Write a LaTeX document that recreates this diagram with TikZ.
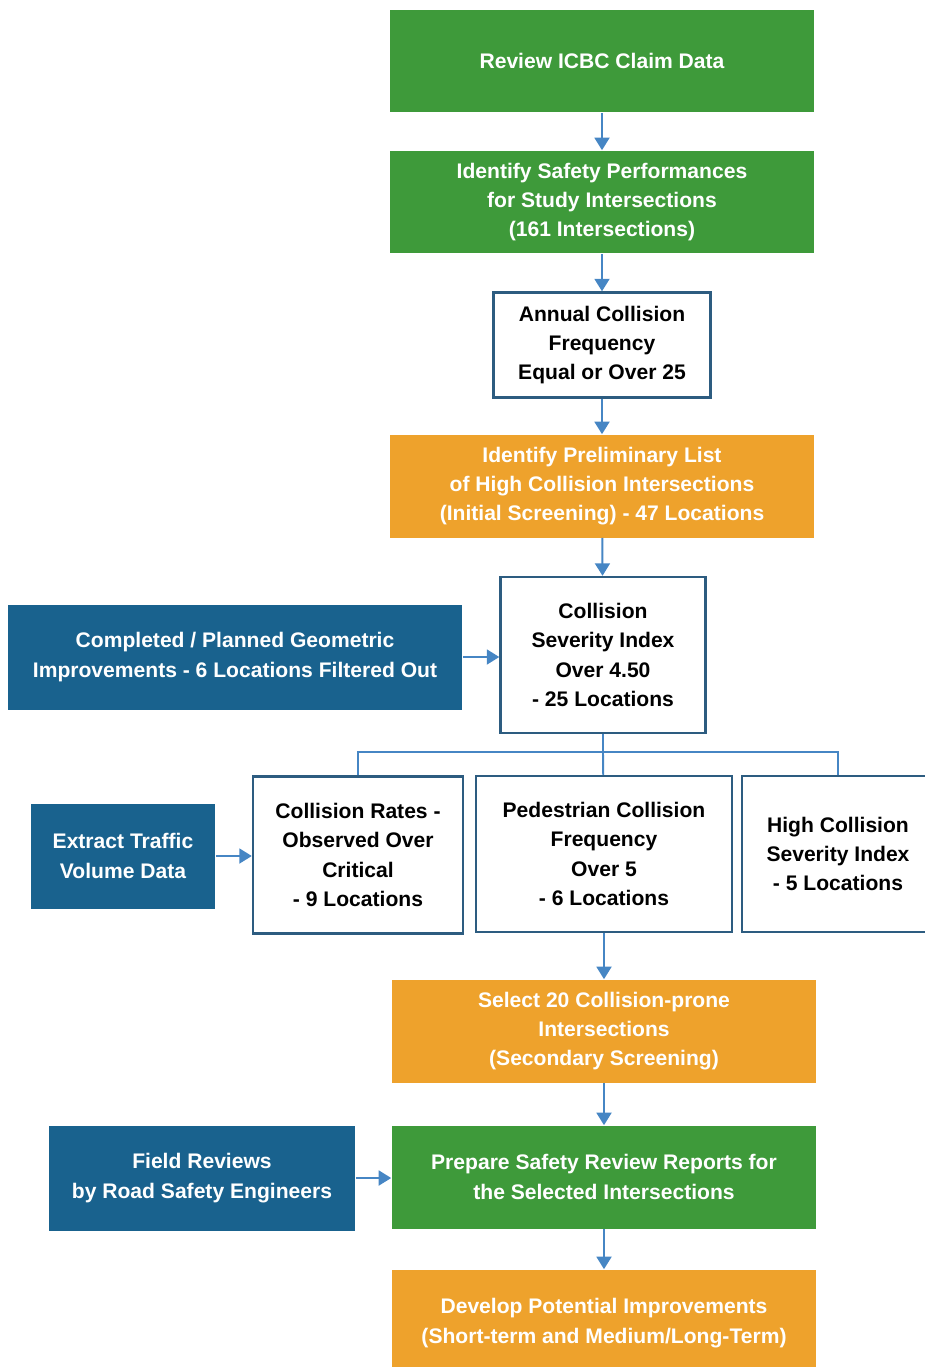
\documentclass[tikz,border=0pt]{standalone}
\usepackage{fontspec}
\setmainfont{Liberation Sans}
\usetikzlibrary{arrows.meta, positioning}
\definecolor{stepgreen}{RGB}{62,154,58}
\definecolor{steporange}{RGB}{238,162,44}
\definecolor{stepblue}{RGB}{25,98,142}
\definecolor{edgeblue}{RGB}{45,92,128}
\definecolor{linkblue}{RGB}{70,134,196}

\begin{document}
\begin{tikzpicture}[x=0.02cm, y=-0.02cm,
    box/.style    = {align=center, inner sep=2pt, font=\bfseries\fontsize{12}{16.6}\selectfont},
    gbox/.style   = {box, fill=stepgreen, text=white, minimum width=8.5cm, minimum height=2.06cm},
    obox/.style   = {box, fill=steporange, text=white, minimum width=8.5cm, minimum height=2.06cm},
    bbox/.style   = {box, fill=stepblue, text=white, minimum height=2.1cm},
    wbox/.style   = {box, draw=edgeblue, line width=1.4pt, fill=white, text=black},
    flow/.style   = {draw=linkblue, line width=1.1pt, -{Triangle[length=2.5mm, width=3mm]}},
    link/.style   = {draw=linkblue, line width=1.1pt}
  ]
  \useasboundingbox (0,0) rectangle (924,1367);

  % main column
  \node[gbox] (claims) at (602,61)  {Review ICBC Claim Data};
  \node[gbox] (perf)   at (602,202) {Identify Safety Performances\\for Study Intersections\\(161 Intersections)};
  \node[wbox, minimum width=4.34cm, minimum height=2.1cm] (annual) at (602,345)
    {Annual Collision\\Frequency\\Equal or Over 25};
  \node[obox] (prelim) at (602,486) {Identify Preliminary List\\of High Collision Intersections\\(Initial Screening) - 47 Locations};
  \node[wbox, minimum width=4.1cm, minimum height=3.12cm] (csi) at (603,655)
    {Collision\\Severity Index\\Over 4.50\\- 25 Locations};

  % secondary criteria
  \node[wbox, minimum width=4.2cm, minimum height=3.14cm]  (rates) at (358,855)
    {Collision Rates -\\Observed Over\\Critical\\- 9 Locations};
  \node[wbox, minimum width=5.12cm, minimum height=3.12cm] (ped)   at (604,854)
    {Pedestrian Collision\\Frequency\\Over 5\\- 6 Locations};
  \node[wbox, minimum width=3.84cm, minimum height=3.12cm] (hisev) at (838,854)
    {High Collision\\Severity Index\\- 5 Locations};

  \node[obox] (select)  at (604,1031) {Select 20 Collision-prone\\Intersections\\(Secondary Screening)};
  \node[gbox] (reports) at (604,1177) {Prepare Safety Review Reports for\\the Selected Intersections};
  \node[obox, minimum height=2.14cm] (develop) at (604,1323) {Develop Potential Improvements\\(Short-term and Medium/Long-Term)};

  % side inputs
  \node[bbox, minimum width=9.1cm]  (geom)    at (235,657)  {Completed / Planned Geometric\\Improvements - 6 Locations Filtered Out};
  \node[bbox, minimum width=3.7cm]  (traffic) at (123,856)  {Extract Traffic\\Volume Data};
  \node[bbox, minimum width=6.14cm] (field)   at (202,1178) {Field Reviews\\by Road Safety Engineers};

  % arrows down the column
  \draw[flow] (claims) -- (perf);
  \draw[flow] (perf) -- (annual);
  \draw[flow] (annual) -- (prelim);
  \draw[flow] (prelim) -- (csi);
  \draw[flow] (ped) -- (select);
  \draw[flow] (select) -- (reports);
  \draw[flow] (reports) -- (develop);

  % split to the three criteria
  \coordinate (split) at (603,752);
  \draw[link] (csi) -- (split);
  \draw[link] (split) -- (ped);
  \draw[link] (split) -| (rates.north);
  \draw[link] (split) -| (hisev.north);

  % side arrows
  \draw[flow] (geom) -- (csi.west |- geom);
  \draw[flow] (traffic) -- (rates.west |- traffic);
  \draw[flow] (field) -- (reports.west |- field);
\end{tikzpicture}
\end{document}
